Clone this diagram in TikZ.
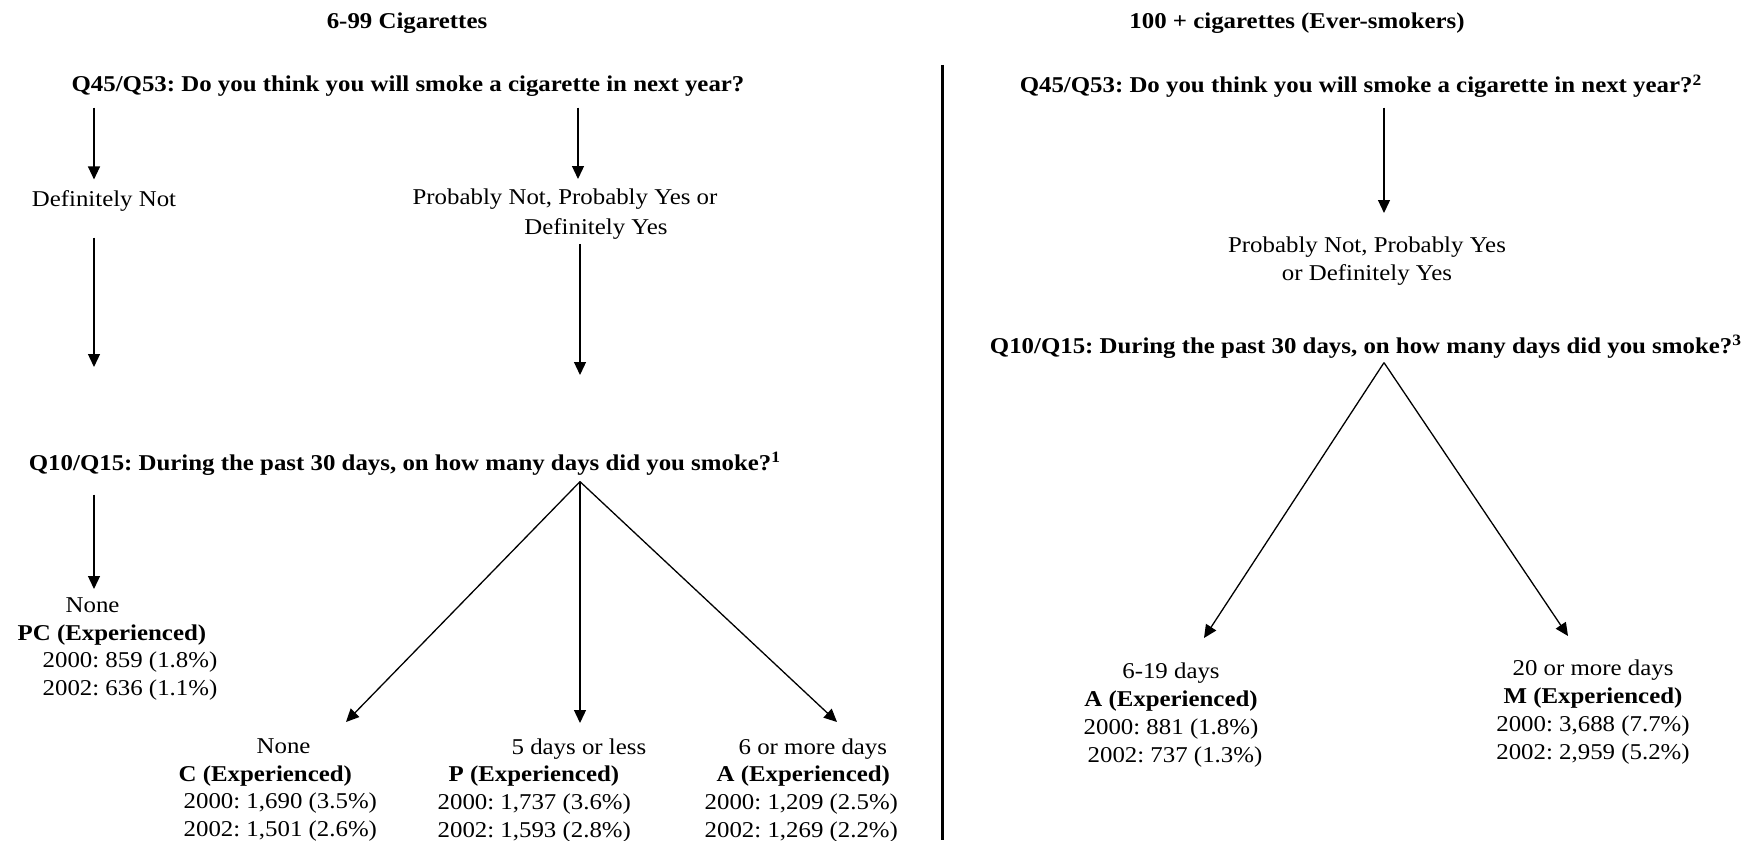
\documentclass[tikz,border=0pt]{standalone}
\usepackage{fontspec}
\setmainfont{Liberation Serif}[FakeStretch=1.1]
\usetikzlibrary{arrows.meta,positioning}
\frenchspacing

\begin{document}
\begin{tikzpicture}[->,>={Triangle[width=6pt,length=6.5pt]},x=0.5pt,y=-0.5pt,
			line width=0.65pt]
			\tikzstyle{every node}=[inner sep=0pt,font=\fontsize{11.3}{13.8}\selectfont]
			\tikzstyle{head}=[anchor=base,font=\fontsize{11.3}{13.8}\selectfont\bfseries]
			\tikzstyle{answer}=[anchor=base]
			\tikzstyle{block}=[align=left,anchor=north west]
			\tikzstyle{rblock}=[align=center,anchor=north,font=\fontsize{11.3}{14}\selectfont]
			\useasboundingbox (0,0) rectangle (1744,840);
			
			\node[head] (T1) at (407,29) {6-99 Cigarettes};
			\node[head] (T2) at (1297,29) {100 + cigarettes (Ever-smokers)};
			\draw[-,line width=1.5pt] (942,65) -- (942,840);
			
			% 6-99 side
			\node[head] (QL1) at (408,91) {Q45/Q53: Do you think you will smoke a cigarette in next year?};
			\node[answer] (DN) at (104,206) {Definitely Not};
			\node[align=center,anchor=north,font=\fontsize{11.3}{15}\selectfont] (PN) at (565,188) {Probably Not, Probably Yes or\\\hspace*{31pt}Definitely Yes};
			\node[head] (QL2) at (405,470) {Q10/Q15: During the past 30 days, on how many days did you smoke?\textsuperscript{1}};
			\node[block] (PC) at (17,597) {\hspace*{24pt}None\\\textbf{PC (Experienced)}\\\hspace*{12.5pt}2000: 859 (1.8\%)\\\hspace*{12.5pt}2002: 636 (1.1\%)};
			\node[block] (C) at (178,738) {\hspace*{39pt}None\\\textbf{C (Experienced)}\\\hspace*{2.5pt}2000: 1,690 (3.5\%)\\\hspace*{2.5pt}2002: 1,501 (2.6\%)};
			\node[block] (P) at (437,738) {\hspace*{37pt}5 days or less\\\hspace*{5.5pt}\textbf{P (Experienced)}\\2000: 1,737 (3.6\%)\\2002: 1,593 (2.8\%)};
			\node[block] (A) at (704,738) {\hspace*{17pt}6 or more days\\\hspace*{6pt}\textbf{A (Experienced)}\\2000: 1,209 (2.5\%)\\2002: 1,269 (2.2\%)};
			
			\coordinate (xL) at (94,0);
			\coordinate (xM) at (578,0);
			\coordinate (eL) at (94,367);
			\coordinate (eM) at (580,375);
			\coordinate (tC) at (346,722);
			\coordinate (tP) at (580,723);
			\coordinate (tA) at (837,722);
			
			\draw ([yshift=-5.5pt]QL1.south -| xL) -- ([yshift=5pt]DN.north -| xL);
			\draw ([yshift=-5.5pt]QL1.south -| xM) -- ([yshift=4.5pt]PN.north -| xM);
			\draw ([yshift=-13pt]DN.south -| xL) -- (eL);
			\draw ([yshift=-2pt]PN.south -| eM) -- (eM);
			\draw ([yshift=-9.5pt]QL2.south -| xL) -- ([yshift=4pt]PC.north -| xL);
			\draw ([yshift=-3pt]QL2.south -| tP) -- (tC);
			\draw ([yshift=-3pt]QL2.south -| tP) -- (tP);
			\draw ([yshift=-3pt]QL2.south -| tP) -- (tA);
			
			% 100+ side
			\node[head] (QR1) at (1361,93) {Q45/Q53: Do you think you will smoke a cigarette in next year?\textsuperscript{2}};
			\node[align=center,anchor=north,font=\fontsize{11.3}{14}\selectfont] (PR) at (1367,236) {Probably Not, Probably Yes\\or Definitely Yes};
			\node[head] (QR2) at (1366,353) {Q10/Q15: During the past 30 days, on how many days did you smoke?\textsuperscript{3}};
			\node[rblock] (AR) at (1171,662) {6-19 days\\\textbf{A (Experienced)}\\2000: 881 (1.8\%)\\\hspace*{4pt}2002: 737 (1.3\%)};
			\node[rblock] (MR) at (1593,659) {20 or more days\\\textbf{M (Experienced)}\\2000: 3,688 (7.7\%)\\2002: 2,959 (5.2\%)};
			
			\coordinate (xR) at (1384,0);
			\coordinate (tAR) at (1204,638);
			\coordinate (tMR) at (1568,636);
			
			\draw ([yshift=-4.5pt]QR1.south -| xR) -- ([yshift=11.5pt]PR.north -| xR);
			\draw ([yshift=-2pt]QR2.south -| xR) -- (tAR);
			\draw ([yshift=-2pt]QR2.south -| xR) -- (tMR);
\end{tikzpicture}
\end{document}
